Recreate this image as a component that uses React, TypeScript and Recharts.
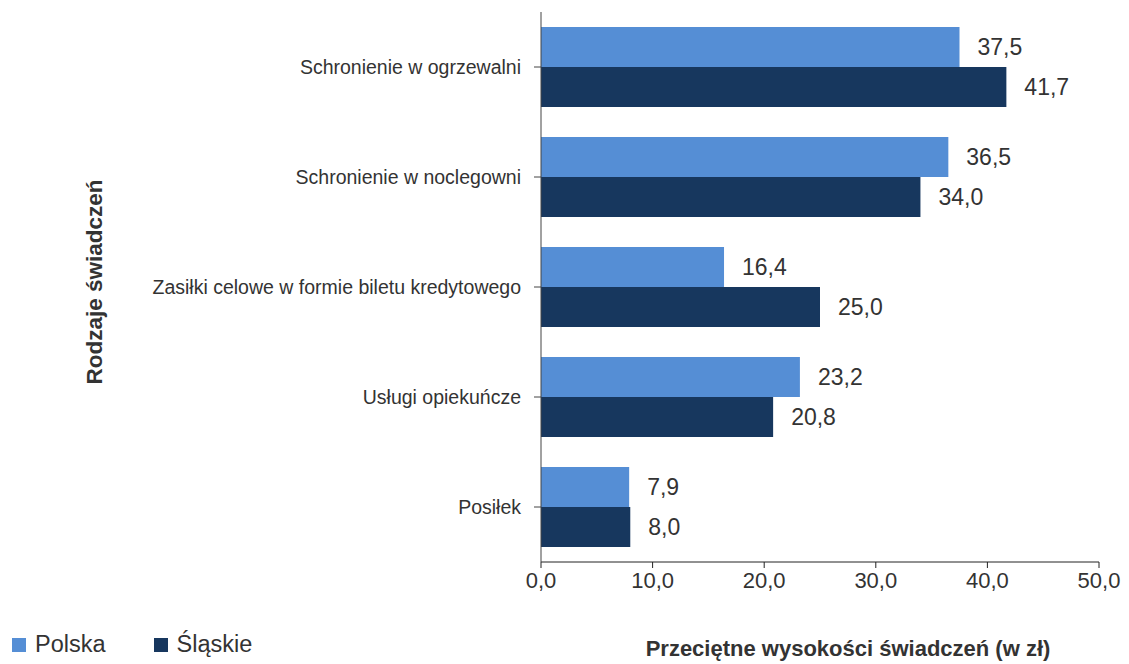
import { BarChart, Bar, XAxis, YAxis, LabelList } from 'recharts';

const categories = [
  'Schronienie w ogrzewalni',
  'Schronienie w noclegowni',
  'Zasiłki celowe w formie biletu kredytowego',
  'Usługi opiekuńcze',
  'Posiłek',
];
const polska = [37.5, 36.5, 16.4, 23.2, 7.9];
const slaskie = [41.7, 34.0, 25.0, 20.8, 8.0];
const xTicks = [0, 10, 20, 30, 40, 50];

const series = [
  { key: 'polska', name: 'Polska', color: '#558ED5' },
  { key: 'slaskie', name: 'Śląskie', color: '#17375E' },
];

const data = categories.map((name, i) => ({
  name,
  polska: polska[i],
  slaskie: slaskie[i],
}));

const FONT = '"Liberation Sans", Arial, sans-serif';
const TEXT = '#333333';
const fmt = (v: number) => v.toFixed(1).replace('.', ',');

function App() {
  return (
    <div style={{ position: 'absolute', left: 0, top: 0, width: 1129, height: 664, fontFamily: FONT }}>
      <BarChart
        width={1129}
        height={664}
        data={data}
        layout="vertical"
        margin={{ top: 12, right: 30, bottom: 62, left: 0 }}
        barGap={0}
      >
        <XAxis
          type="number"
          domain={[0, 50]}
          ticks={xTicks}
          tickFormatter={fmt}
          height={40}
          stroke="#222"
          tickSize={6}
          tickMargin={4}
          tick={{ fill: TEXT, fontSize: 22, fontFamily: FONT }}
          label={{
            content: () => (
              <text x={848} y={648} textAnchor="middle" dominantBaseline="central" fill={TEXT}
                fontSize={22} fontWeight="bold" fontFamily={FONT}>
                Przeciętne wysokości świadczeń (w zł)
              </text>
            ),
          }}
        />
        <YAxis
          type="category"
          dataKey="name"
          width={541}
          stroke="#444"
          tickSize={7}
          tickMargin={13}
          tick={{ fill: TEXT, fontSize: 19.5, fontFamily: FONT }}
          label={{
            content: () => (
              <text x={94} y={282} transform="rotate(-90 94 282)" textAnchor="middle"
                dominantBaseline="central" fill={TEXT} fontSize={22.5} fontWeight="bold" fontFamily={FONT}>
                Rodzaje świadczeń
              </text>
            ),
          }}
        />
        {series.map((s) => (
          <Bar key={s.key} dataKey={s.key} name={s.name} fill={s.color} barSize={40} isAnimationActive={false}>
            <LabelList dataKey={s.key} position="right" offset={18} formatter={(v: any) => fmt(Number(v))}
              fill={TEXT} fontSize={23} fontFamily={FONT} />
          </Bar>
        ))}
      </BarChart>
      <div style={{ position: 'absolute', left: 12, top: 631, display: 'flex', alignItems: 'center', color: TEXT, fontSize: 23.5 }}>
        {series.map((s, i) => (
          <div key={s.key} style={{ display: 'flex', alignItems: 'center', marginRight: i === 0 ? 48 : 0 }}>
            <span style={{ display: 'inline-block', width: 14, height: 14, background: s.color, marginRight: 9 }} />
            <span>{s.name}</span>
          </div>
        ))}
      </div>
    </div>
  );
}

export default App;
